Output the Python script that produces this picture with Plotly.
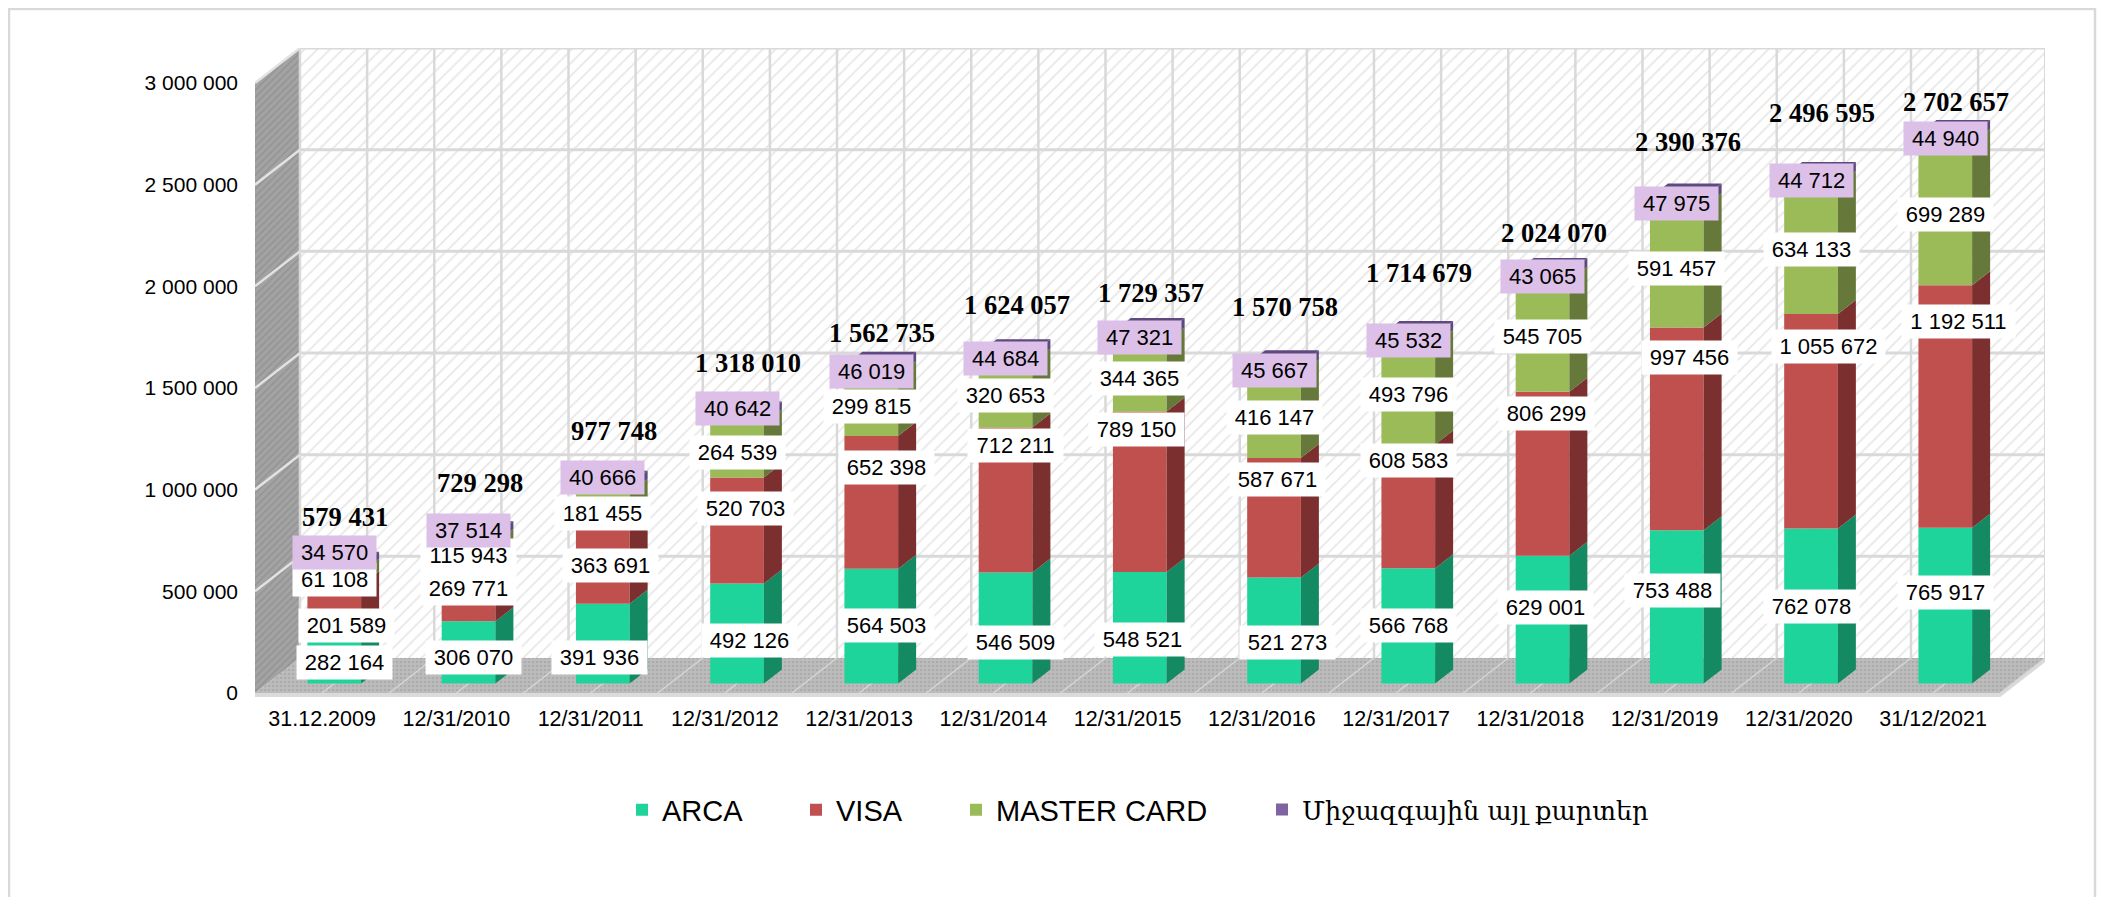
import plotly.graph_objects as go

# ---------------- data ----------------
CATEGORIES = ["31.12.2009", "12/31/2010", "12/31/2011", "12/31/2012", "12/31/2013",
              "12/31/2014", "12/31/2015", "12/31/2016", "12/31/2017", "12/31/2018",
              "12/31/2019", "12/31/2020", "31/12/2021"]
ARCA = [282164, 306070, 391936, 492126, 564503, 546509, 548521, 521273, 566768,
        629001, 753488, 762078, 765917]
VISA = [201589, 269771, 363691, 520703, 652398, 712211, 789150, 587671, 608583,
        806299, 997456, 1055672, 1192511]
MASTER_CARD = [61108, 115943, 181455, 264539, 299815, 320653, 344365, 416147, 493796,
               545705, 591457, 634133, 699289]
OTHER_INTL = [34570, 37514, 40666, 40642, 46019, 44684, 47321, 45667, 45532,
              43065, 47975, 44712, 44940]
SERIES_NAMES = ["ARCA", "VISA", "MASTER CARD", "Միջազգային այլ քարտեր"]
Y_TICKS = [0, 500000, 1000000, 1500000, 2000000, 2500000, 3000000]

# label positions (value units; labels were placed by hand)
LABEL_Y_ARCA = [152000, 177000, 177000, 256000, 334000, 246000, 261000, 246000, 333000,
                421000, 502000, 423000, 492000]
LABEL_Y_VISA = [334000, 516000, 629000, 905000, 1111000, 1215000, 1298000, 1052000,
                1144000, 1374000, 1652000, 1702000, 1827000]
LABEL_Y_MC = [556000, 674000, 885000, 1185000, 1407000, 1461000, 1549000, 1357000,
              1468000, 1753000, 2090000, 2180000, 2353000]
LABEL_Y_OTHER = [693000, 797000, 1062000, 1397000, 1579000, 1643000, 1746000, 1588000,
                 1735000, 2046000, 2409000, 2519000, 2729000]
LABEL_Y_TOTAL = [866000, 1033000, 1288000, 1623000, 1770000, 1908000, 1967000, 1898000,
                 2064000, 2261000, 2709000, 2852000, 2906000]
# small horizontal nudges of hand-placed labels (pixels)
LABEL_DX_ARCA = [10, 5, -3, 12, 15, 10, 3, 13, 0, 3, -4, 0, 0]
LABEL_DX_VISA = [12, 0, 8, 8, 15, 10, -3, 3, 0, 4, 13, 17, 13]

# ---------------- styling / geometry (screen pixels) ----------------
OFF = 8                                   # page body margin
W, H = 2105 - OFF, 897 - OFF
PLOT_L, PLOT_R, PLOT_T, PLOT_B = 255, 2045, 48, 697
ZERO_PX = 693
PX_PER_CAT = 134.25
PX_PER_UNIT = 101.67 / 500000
D_X = 45 / PX_PER_CAT          # depth offset in category units
D_Y = 35 / PX_PER_UNIT         # depth offset in value units
BAR_FRONT = 0.27
BAR_DEPTH = 0.40
BAR_W = 0.40
YMAX = Y_TICKS[-1]
NCAT = len(CATEGORIES)

x_range = [0, (PLOT_R - PLOT_L) / PX_PER_CAT]
y0 = -(PLOT_B - ZERO_PX) / PX_PER_UNIT
y_range = [y0, y0 + (PLOT_B - PLOT_T) / PX_PER_UNIT]

FRONT = ["#1fd49b", "#c0504d", "#9bbb59", "#8064a2"]
SIDE = ["#148a62", "#7b2f2e", "#66793a", "#5d4a7d"]
TOP_COLOR = "#5e4a80"
SANS = "Liberation Sans, Arial, sans-serif"
SERIF = "Liberation Serif, Times New Roman, serif"

fig = go.Figure()


def polys(polygons, color, zorder, pattern=None):
    xs, ys = [], []
    for p in polygons:
        for (a, b) in p:
            xs.append(a)
            ys.append(b)
        xs.append(p[0][0]); ys.append(p[0][1])
        xs.append(None); ys.append(None)
    kw = dict(x=xs, y=ys, mode="lines", fill="toself", fillcolor=color,
              line=dict(width=0, color=color), hoverinfo="skip",
              showlegend=False, zorder=zorder)
    if pattern:
        kw["fillpattern"] = pattern
    fig.add_trace(go.Scatter(**kw))


def lines(segs, color, width, zorder):
    xs, ys = [], []
    for (a, b), (c, d) in segs:
        xs += [a, c, None]
        ys += [b, d, None]
    fig.add_trace(go.Scatter(x=xs, y=ys, mode="lines", line=dict(color=color, width=width),
                             hoverinfo="skip", showlegend=False, zorder=zorder))


# back wall
polys([[(D_X, D_Y), (NCAT + D_X, D_Y), (NCAT + D_X, YMAX + D_Y), (D_X, YMAX + D_Y)]],
      "white", -3,
      pattern=dict(shape="/", fgcolor="#cfcfcf", bgcolor="white", size=9, solidity=0.2))
# side wall
polys([[(0, 0), (D_X, D_Y), (D_X, YMAX + D_Y), (0, YMAX)]],
      "#a0a0a0", -3,
      pattern=dict(shape="/", fgcolor="#878787", bgcolor="#a3a3a3", size=5, solidity=0.35))
# floor
polys([[(0, 0), (NCAT, 0), (NCAT + D_X, D_Y), (D_X, D_Y)]],
      "#bababa", -3,
      pattern=dict(shape=".", fgcolor="#9a9a9a", bgcolor="#bcbcbc", size=4, solidity=0.3))
# floor thickness strip
strip = 4 / PX_PER_UNIT
polys([[(0, 0), (NCAT, 0), (NCAT, -strip), (0, -strip)],
       [(NCAT, 0), (NCAT + D_X, D_Y), (NCAT + D_X, D_Y - strip), (NCAT, -strip)]],
      "#dadada", -3)

# gridlines
grid = "#d9d9d9"
lines([((D_X, v + D_Y), (NCAT + D_X, v + D_Y)) for v in Y_TICKS[1:]], grid, 3, -2)
lines([((D_X + k * 0.5, D_Y), (D_X + k * 0.5, YMAX + D_Y)) for k in range(0, 2 * NCAT + 1)],
      grid, 2.5, -2)
lines([((0, v), (D_X, v + D_Y)) for v in Y_TICKS[1:]], "#e2e2e2", 2.5, -2)
lines([((k * 0.5, 0), (k * 0.5 + D_X, D_Y)) for k in range(1, 2 * NCAT + 1)],
      "#d6d6d6", 1.5, -2)

# ---------------- bars ----------------
series = [ARCA, VISA, MASTER_CARD, OTHER_INTL]
cum = [0] * NCAT
xc = [i + 0.5 + BAR_FRONT * D_X for i in range(NCAT)]
legends = ["legend", "legend2", "legend3", "legend4"]
for s, vals in enumerate(series):
    bases = [c + BAR_FRONT * D_Y for c in cum]
    fig.add_trace(go.Bar(x=xc, y=vals, base=bases, width=BAR_W, name=SERIES_NAMES[s],
                         marker=dict(color=FRONT[s], line=dict(width=0)),
                         legend=legends[s], hoverinfo="skip", zorder=0))
    side = []
    for i in range(NCAT):
        xr = xc[i] + BAR_W / 2
        b = bases[i]
        t = b + vals[i]
        side.append([(xr, b), (xr + BAR_DEPTH * D_X, b + BAR_DEPTH * D_Y),
                     (xr + BAR_DEPTH * D_X, t + BAR_DEPTH * D_Y), (xr, t)])
    polys(side, SIDE[s], 0)
    cum = [c + v for c, v in zip(cum, vals)]

top_faces = []
for i in range(NCAT):
    xl = xc[i] - BAR_W / 2
    xr = xc[i] + BAR_W / 2
    t = cum[i] + BAR_FRONT * D_Y
    top_faces.append([(xl, t), (xr, t), (xr + BAR_DEPTH * D_X, t + BAR_DEPTH * D_Y),
                      (xl + BAR_DEPTH * D_X, t + BAR_DEPTH * D_Y)])
polys(top_faces, TOP_COLOR, 0)


# ---------------- labels ----------------
def fmt(v):
    return f"{v:,}".replace(",", " ")


def text_w(s, size):
    return sum(0.556 if ch.isdigit() else 0.278 for ch in s) * size


LBL = 22
zeros = [0] * NCAT
label_sets = [(ARCA, LABEL_Y_ARCA, LABEL_DX_ARCA, "white"),
              (VISA, LABEL_Y_VISA, LABEL_DX_VISA, "white"),
              (MASTER_CARD, LABEL_Y_MC, zeros, "white"),
              (OTHER_INTL, LABEL_Y_OTHER, zeros, "#dcc0e7")]
annotations = []
for vals, ys, dxs, bg in label_sets:
    for i in range(NCAT):
        s = fmt(vals[i])
        annotations.append(dict(x=xc[i] + dxs[i] / PX_PER_CAT, y=ys[i], xref="x", yref="y",
                                text=s, showarrow=False,
                                font=dict(family=SANS, size=LBL, color="#000000"),
                                bgcolor=bg, borderpad=4, width=text_w(s, LBL) * 0.97 + 10,
                                height=25, align="center", valign="middle"))
TOTAL_DX = 11 / PX_PER_CAT
for i in range(NCAT):
    annotations.append(dict(x=xc[i] + TOTAL_DX, y=LABEL_Y_TOTAL[i], xref="x", yref="y",
                            text="<b>" + fmt(cum[i]) + "</b>", showarrow=False,
                            font=dict(family=SERIF, size=26.5, color="#000000")))

# ---------------- layout (figure px = screen px - OFF) ----------------
L, R, T, B = PLOT_L - OFF, PLOT_R - OFF, PLOT_T - OFF, PLOT_B - OFF
pw = R - L
ph = B - T


def px_x(p):
    return (p - OFF - L) / pw


def px_y(p):
    return (B - (p - OFF)) / ph


LEG_Y = px_y(810)
leg_px = [646, 820, 980, 1286]
leg_cfg = {}
for k, name in enumerate(legends):
    fam = SANS if k < 3 else "DejaVu Serif, serif"
    leg_cfg[name] = dict(x=px_x(leg_px[k] - 24), y=LEG_Y, xanchor="left", yanchor="middle",
                         orientation="h", bgcolor="rgba(0,0,0,0)",
                         font=dict(family=fam, size=29 if k < 3 else 25.5, color="#000000"))

fig.update_layout(
    width=W, height=H,
    margin=dict(l=L, r=W - R, t=T, b=H - B, autoexpand=False),
    paper_bgcolor="white", plot_bgcolor="white",
    barmode="overlay", separators=". ",
    showlegend=True,
    annotations=annotations,
    xaxis=dict(range=x_range, showgrid=False, zeroline=False, showline=False,
               tickmode="array", tickvals=[i + 0.5 for i in range(NCAT)], ticktext=CATEGORIES,
               ticks="", ticklabelstandoff=6,
               tickfont=dict(family=SANS, size=21.5, color="#000000")),
    yaxis=dict(range=y_range, showgrid=False, zeroline=False, showline=False,
               tickmode="array", tickvals=Y_TICKS, tickformat=",d", ticks="",
               ticklabelstandoff=16,
               tickfont=dict(family=SANS, size=21, color="#000000")),
    shapes=[dict(type="rect", xref="paper", yref="paper",
                 x0=px_x(9), x1=px_x(2095), y0=px_y(905), y1=px_y(9),
                 line=dict(color="#d9d9d9", width=2.5), fillcolor="rgba(0,0,0,0)",
                 layer="below")],
    **leg_cfg,
)

fig.write_html("out.html")
